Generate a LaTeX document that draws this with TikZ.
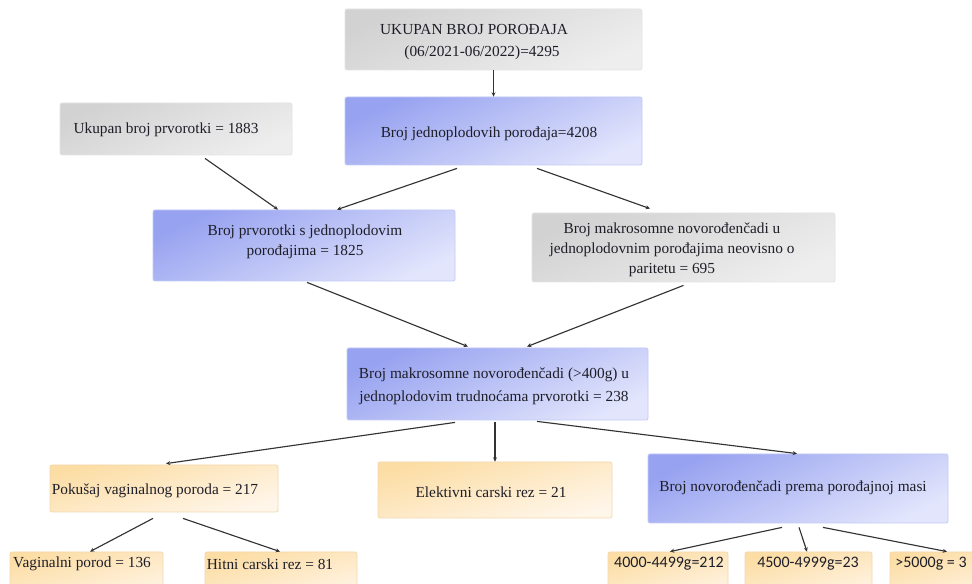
\documentclass[tikz,border=0pt]{standalone}
\usepackage{fontspec}
\setmainfont{Liberation Serif}
\newfontfamily\serf{Liberation Serif}
\newfontfamily\calib{Carlito}
\usetikzlibrary{calc,arrows.meta}
\definecolor{grayA}{HTML}{D2D2D2}
\definecolor{grayB}{HTML}{EEEEEE}
\definecolor{grayD}{HTML}{E4E4E4}
\definecolor{blueA}{HTML}{97A2F0}
\definecolor{blueB}{HTML}{E2E5FC}
\definecolor{blueD}{HTML}{C3CAF6}
\definecolor{orA}{HTML}{FCDDA4}
\definecolor{orB}{HTML}{FFF6EA}
\definecolor{orD}{HTML}{F3D9B0}
\definecolor{txtc}{HTML}{1E1E28}
\definecolor{linec}{HTML}{333333}
\tikzset{
  sz/.style 2 args={minimum width=#1*0.75pt, minimum height=#2*0.75pt},
  boxbase/.style={rectangle, rounded corners=1.5pt, line width=0.6pt, inner sep=0pt},
  graybox/.style={boxbase, draw=grayD, top color=grayA, bottom color=grayB, shading angle=25},
  bluebox/.style={boxbase, draw=blueD, top color=blueA, bottom color=blueB, shading angle=25},
  orbox/.style={boxbase, draw=orD, top color=orA, bottom color=orB, shading angle=15},
  txt/.style={font=\serf\fontsize{11.5}{15.5}\selectfont, align=center, text=txtc, inner sep=0pt},
  ctxt/.style={font=\calib\fontsize{12}{14}\selectfont, align=center, text=txtc, inner sep=0pt},
  conn/.style={draw=linec, line width=0.85pt, -{Stealth[length=3.2pt,width=3pt]}}
}
\begin{document}
\begin{tikzpicture}[x=0.75pt,y=-0.75pt]
\useasboundingbox (0,0) rectangle (972,584);
\fill[white] (0,0) rectangle (972,584);
\clip (0,0) rectangle (972,584);

% boxes
\node[graybox, sz={297}{61}] (b1) at (493.5,39.5) {};
\node[bluebox, sz={297}{68}] (b2) at (493.5,131) {};
\node[graybox, sz={232}{52}] (b3) at (176,129) {};
\node[bluebox, sz={302}{71}] (b4) at (304,245.5) {};
\node[graybox, sz={303}{69}] (b5) at (683.5,247.5) {};
\node[bluebox, sz={301}{72}] (b6) at (497.5,384) {};
\node[orbox, sz={234}{56}] (b7) at (495,490) {};
\node[orbox, sz={228}{47}] (b8) at (164,488.5) {};
\node[bluebox, sz={300}{69}] (b11) at (798,488.5) {};
\node[orbox, sz={153}{52}] (b9) at (86.5,578) {};
\node[orbox, sz={152}{52}] (b10) at (281,578) {};
\node[orbox, sz={120}{52}] (b12) at (668,578) {};
\node[orbox, sz={127}{52}] (b13) at (808.5,578) {};
\node[orbox, sz={114}{52}] (b14) at (947,578) {};

% texts
\node[txt, font=\serf\fontsize{11.5}{16}\selectfont] (t1) at (474,42) {UKUPAN BROJ POROĐAJA\\\hspace*{12pt}(06/2021-06/2022)=4295};
\node[txt] (t2) at (489,134) {Broj jednoplodovih porođaja=4208};
\node[txt] (t3) at (166,130) {Ukupan broj prvorotki = 1883};
\node[txt, font=\serf\fontsize{11.5}{15}\selectfont] (t4) at (305,242) {Broj prvorotki s jednoplodovim\\porođajima = 1825};
\node[txt, font=\serf\fontsize{11.5}{15}\selectfont] (t5) at (672,250) {Broj makrosomne novorođenčadi u\\jednoplodovnim porođajima neovisno o\\paritetu = 695};
\node[txt, font=\serf\fontsize{11.5}{17}\selectfont] (t6) at (494,386) {Broj makrosomne novorođenčadi (>400g) u\\jednoplodovim trudnoćama prvorotki = 238};
\node[txt] (t7) at (491,492) {Elektivni carski rez = 21};
\node[txt] (t8) at (155,491) {Pokušaj vaginalnog poroda = 217};
\node[txt] (t11) at (793,488) {Broj novorođenčadi prema porođajnoj masi};
\node[txt] (t9) at (82,564) {Vaginalni porod = 136};
\node[txt] (t10) at (270,564) {Hitni carski rez = 81};
\node[ctxt] (t12) at (669,564) {4000-4499g=212};
\node[ctxt] (t13) at (808,564) {4500-4999g=23};
\node[ctxt] (t14) at (931,564) {>5000g = 3};

% connectors
\draw[conn] (b1.south) -- (b2.north);
\draw[conn] ($(b3.south)+(29,3)$) -- ($(b4.north)+(-26,0)$);
\draw[conn] ($(b2.south)+(-36.5,3)$) -- ($(b4.north)+(33,0)$);
\draw[conn] ($(b2.south)+(43.5,3)$) -- ($(b5.north)+(-33.5,-4)$);
\draw[conn] ($(b4.south)+(3,1)$) -- ($(b6.north)+(-29.5,-1)$);
\draw[conn] ($(b5.south)+(0,3)$) -- ($(b6.north)+(29.5,-1)$);
\draw[conn] ($(b6.south)+(-42.5,2)$) -- ($(b8.north)+(2,-1)$);
\draw[conn] ($(b6.south)+(-2.5,2)$) -- (b7.north);
\draw[conn] ($(b6.south)+(39.5,1)$) -- ($(b11.north)+(-1,0)$);
\draw[conn] ($(b8.south)+(-11,6)$) -- ($(b9.north)+(3.5,0)$);
\draw[conn] ($(b8.south)+(19,6)$) -- ($(b10.north)+(-1,0)$);
\draw[conn] ($(b11.south)+(-16,4)$) -- ($(b12.north)+(2,0)$);
\draw[conn] ($(b11.south)+(1,4)$) -- ($(b13.north)+(-1.5,0)$);
\draw[conn] ($(b11.south)+(25,4)$) -- (b14.north);
\end{tikzpicture}
\end{document}
